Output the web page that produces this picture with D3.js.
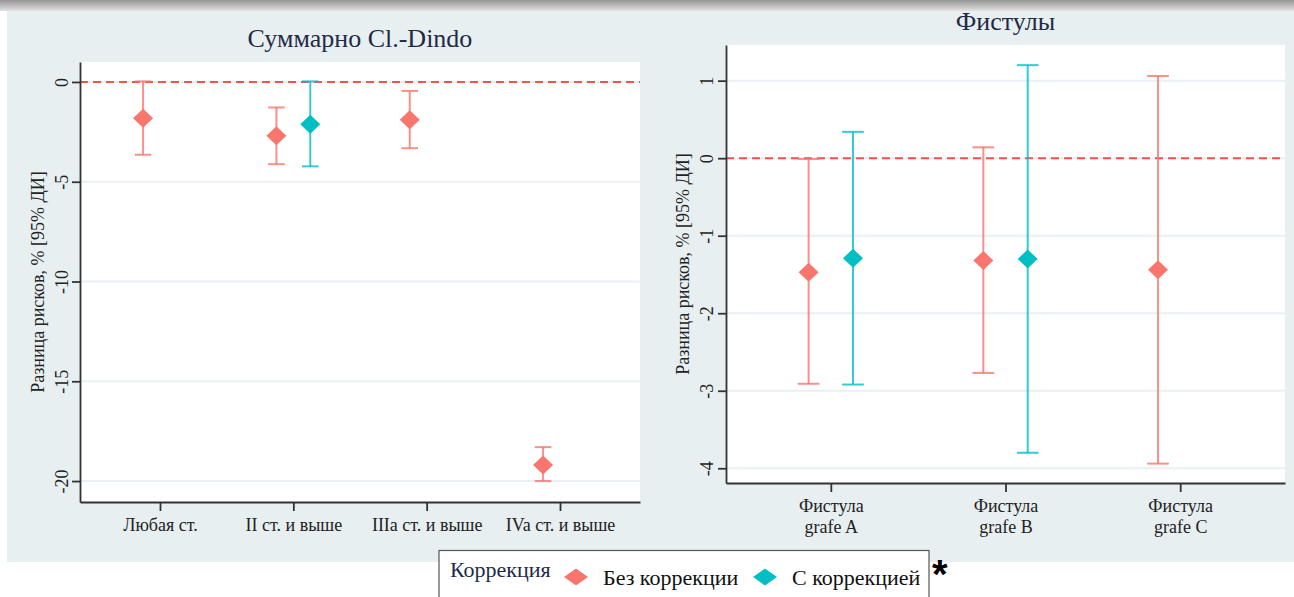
<!DOCTYPE html>
<html>
<head>
<meta charset="utf-8">
<script src="https://cdn.jsdelivr.net/npm/d3@7"></script>
<style>
  body { margin: 0; background: #fff; }
  svg { display: block; font-family: "Liberation Serif", "Times New Roman", serif; }
</style>
</head>
<body>
<svg id="chart" width="1294" height="597"></svg>
<script>
// --- data ---
const cdTitle = "Суммарно Cl.-Dindo"
const cdCategories = ["Любая ст.", "II ст. и выше", "IIIa ст. и выше", "IVa ст. и выше"]
const cdTicks = [0, -5, -10, -15, -20]
const cdRawEst = [-1.82, -2.7, -1.9, -19.2]
const cdRawLo = [-3.65, -4.12, -3.32, -20.0]
const cdRawHi = [0.03, -1.28, -0.45, -18.3]
const cdAdjEst = [null, -2.12, null, null]
const cdAdjLo = [null, -4.23, null, null]
const cdAdjHi = [null, 0.03, null, null]

const fiTitle = "Фистулы"
const fiCategories = ["Фистула\ngrafe A", "Фистула\ngrafe B", "Фистула\ngrafe C"]
const fiTicks = [1, 0, -1, -2, -3, -4]
const fiRawEst = [-1.47, -1.32, -1.44]
const fiRawLo = [-2.91, -2.77, -3.94]
const fiRawHi = [-0.01, 0.14, 1.06]
const fiAdjEst = [-1.29, -1.30, null]
const fiAdjLo = [-2.92, -3.80, null]
const fiAdjHi = [0.34, 1.20, null]

const yTitle = "Разница рисков, % [95% ДИ]"
const legendTitle = "Коррекция"
const seriesNames = ["Без коррекции", "С коррекцией"]
const seriesColors = ["#f8766d", "#00bfc4"]

const serif = "Liberation Serif"
const svg = d3.select("#chart")

// top shadow band and panel background
const defs = svg.append("defs")
const grad = defs.append("linearGradient").attr("id", "band")
  .attr("x1", 0).attr("y1", 0).attr("x2", 0).attr("y2", 1)
grad.append("stop").attr("offset", "0").attr("stop-color", "#5e5e5e")
grad.append("stop").attr("offset", "0.55").attr("stop-color", "#9a9a9a")
grad.append("stop").attr("offset", "1").attr("stop-color", "#e2e2e2")
svg.append("rect").attr("x", -10).attr("y", -12).attr("width", 1320).attr("height", 23)
  .attr("rx", 10).attr("fill", "url(#band)")
svg.append("rect").attr("x", 7).attr("y", 11).attr("width", 1287).attr("height", 551)
  .attr("fill", "#e8eff1")

const diamond = "M0,-9.5L10,0L0,9.5L-10,0Z"

function drawPanel(p) {
  const g = svg.append("g")
  const x = d3.scalePoint().domain(p.categories).range([p.left, p.right]).padding(0.6)
  const y = d3.scaleLinear().domain(p.domain).range([p.bottom, p.top])

  g.append("rect").attr("x", p.left).attr("y", p.top)
    .attr("width", p.right - p.left).attr("height", p.bottom - p.top).attr("fill", "#fff")

  g.selectAll(".grid").data(p.ticks).enter().append("line")
    .attr("x1", p.left).attr("x2", p.right)
    .attr("y1", d => y(d)).attr("y2", d => y(d))
    .attr("stroke", "#e9eff2").attr("stroke-width", 2)

  g.append("line")
    .attr("x1", p.left).attr("x2", p.right).attr("y1", y(0)).attr("y2", y(0))
    .attr("stroke", "#f4524f").attr("stroke-width", 2).attr("stroke-dasharray", "8,5")

  const dodge = x.step() * 0.127
  const capW = x.step() * 0.062
  const series = [
    { est: p.rawEst, lo: p.rawLo, hi: p.rawHi, off: -dodge, color: seriesColors[0] },
    { est: p.adjEst, lo: p.adjLo, hi: p.adjHi, off: dodge, color: seriesColors[1] }
  ]
  series.forEach(s => {
    const rows = p.categories.map((c, i) => ({ c, est: s.est[i], lo: s.lo[i], hi: s.hi[i] }))
      .filter(d => d.est != null)
    const eg = g.append("g").attr("stroke", s.color).attr("stroke-width", 2).attr("stroke-opacity", 0.8)
    eg.selectAll(".v").data(rows).enter().append("line")
      .attr("x1", d => x(d.c) + s.off).attr("x2", d => x(d.c) + s.off)
      .attr("y1", d => y(d.lo)).attr("y2", d => y(d.hi))
    eg.selectAll(".lo").data(rows).enter().append("line")
      .attr("x1", d => x(d.c) + s.off - capW).attr("x2", d => x(d.c) + s.off + capW)
      .attr("y1", d => y(d.lo)).attr("y2", d => y(d.lo))
    eg.selectAll(".hi").data(rows).enter().append("line")
      .attr("x1", d => x(d.c) + s.off - capW).attr("x2", d => x(d.c) + s.off + capW)
      .attr("y1", d => y(d.hi)).attr("y2", d => y(d.hi))
    g.selectAll(null).data(rows).enter().append("path")
      .attr("d", diamond)
      .attr("transform", d => `translate(${x(d.c) + s.off},${y(d.est)})`)
      .attr("fill", s.color)
  })

  // axes
  const ya = g.append("g").attr("transform", `translate(${p.left},0)`)
    .call(d3.axisLeft(y).tickValues(p.ticks).tickSize(8).tickSizeOuter(0).tickFormat(d => String(d)))
  ya.selectAll("text")
    .attr("x", 0).attr("dy", 0).attr("text-anchor", "middle")
    .attr("transform", `translate(${p.tickLabelOff},0) rotate(-90)`)

  const xa = g.append("g").attr("transform", `translate(0,${p.bottom})`)
    .call(d3.axisBottom(x).tickSize(9).tickSizeOuter(0).tickPadding(7))
  xa.selectAll("text").each(function (d) {
    const t = d3.select(this).text(null)
    d.split("\n").forEach((line, i) => {
      t.append("tspan").attr("x", 0).attr("dy", i === 0 ? "0.71em" : "1.2em").text(line)
    })
  })

  ;[ya, xa].forEach(a => {
    a.attr("font-family", serif).attr("font-size", 18)
    a.select(".domain").attr("stroke", "#333").attr("stroke-width", 1.8)
    a.selectAll(".tick line").attr("stroke", "#333").attr("stroke-width", 1.8)
    a.selectAll("text").attr("fill", "#222")
  })

  g.append("text")
    .attr("transform", `translate(${p.left - p.yTitleOff},${(p.top + p.bottom) / 2}) rotate(-90)`)
    .attr("text-anchor", "middle").attr("font-family", serif).attr("font-size", 18).attr("fill", "#222")
    .text(yTitle)

  g.append("text")
    .attr("x", (p.left + p.right) / 2).attr("y", p.titleY)
    .attr("text-anchor", "middle").attr("font-family", serif).attr("font-size", 26).attr("fill", "#1f2a47")
    .text(p.title)
}

drawPanel({
  title: cdTitle, categories: cdCategories, ticks: cdTicks, domain: [-21.05, 1],
  rawEst: cdRawEst, rawLo: cdRawLo, rawHi: cdRawHi,
  adjEst: cdAdjEst, adjLo: cdAdjLo, adjHi: cdAdjHi,
  left: 80, right: 640, top: 62, bottom: 502,
  tickLabelOff: -12, yTitleOff: 36, titleY: 47
})

drawPanel({
  title: fiTitle, categories: fiCategories, ticks: fiTicks, domain: [-4.19, 1.46],
  rawEst: fiRawEst, rawLo: fiRawLo, rawHi: fiRawHi,
  adjEst: fiAdjEst, adjLo: fiAdjLo, adjHi: fiAdjHi,
  left: 726, right: 1285, top: 45, bottom: 483,
  tickLabelOff: -13, yTitleOff: 37, titleY: 30
})

// legend
const lg = svg.append("g").attr("font-family", serif)
lg.append("rect").attr("x", 439).attr("y", 550.5).attr("width", 490).attr("height", 60)
  .attr("fill", "#fff").attr("stroke", "#555").attr("stroke-width", 1.2)
lg.append("text").attr("x", 450).attr("y", 577).attr("font-size", 22).attr("fill", "#1f2a47")
  .text(legendTitle)
const legX = [576, 765]
seriesNames.forEach((name, i) => {
  lg.append("path").attr("d", "M0,-8.5L12,0L0,8.5L-12,0Z")
    .attr("transform", `translate(${legX[i]},577)`).attr("fill", seriesColors[i])
  lg.append("text").attr("x", legX[i] + 27).attr("y", 585).attr("font-size", 22).attr("fill", "#111")
    .text(name)
})
svg.append("text").attr("x", 932).attr("y", 588).attr("font-family", "Liberation Sans")
  .attr("font-weight", "bold").attr("font-size", 40).attr("fill", "#000").text("*")
</script>
</body>
</html>
